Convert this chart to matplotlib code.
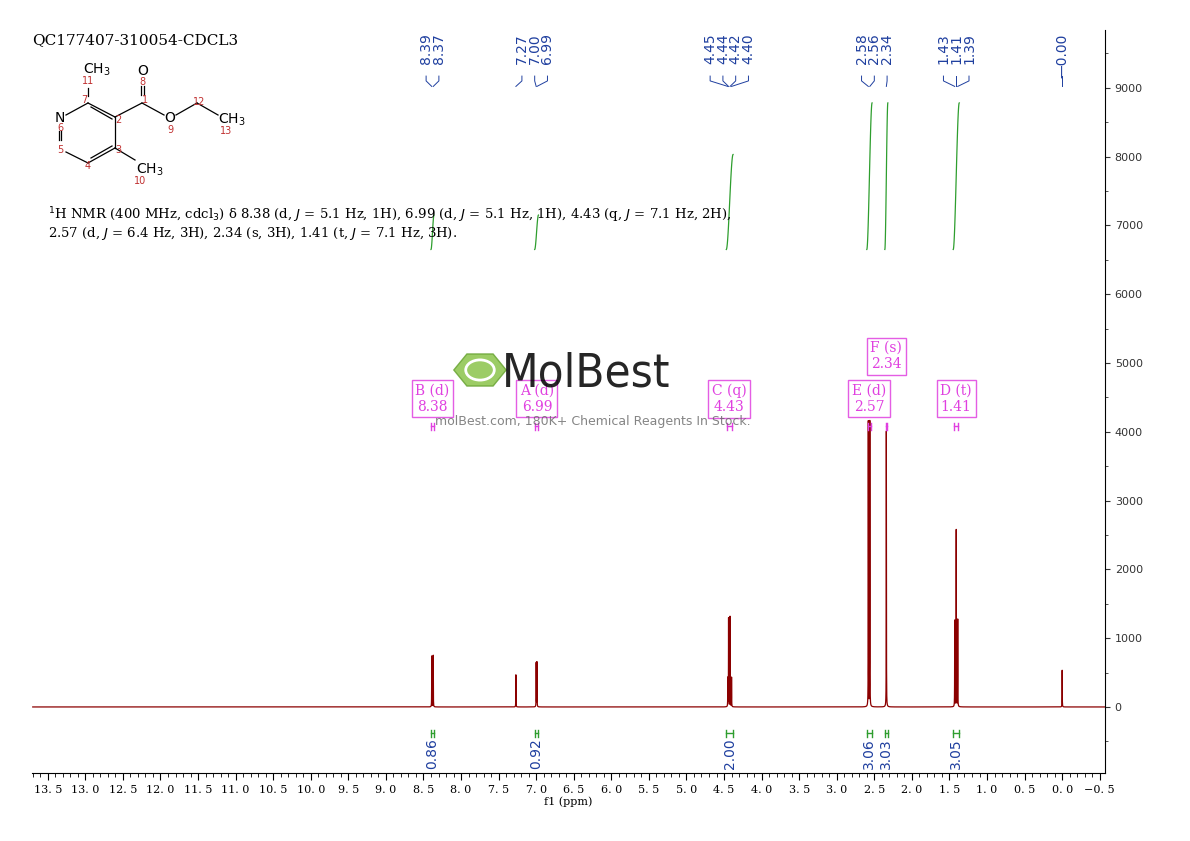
import numpy as np
import matplotlib
matplotlib.use("Agg")
import matplotlib.pyplot as plt
from matplotlib.lines import Line2D
from matplotlib.patches import Circle, RegularPolygon

# peak list (ppm, intensity)
peak_ppm = [8.39, 8.37, 7.27, 7.00, 6.99, 4.45, 4.44, 4.42, 4.40,
            2.58, 2.56, 2.34, 1.43, 1.41, 1.39, 0.00]
peak_int = [740, 750, 480, 640, 650, 420, 1300, 1320, 430,
            4150, 4150, 4150, 1300, 2650, 1300, 540]

# peak label groups shown at the top
label_groups = [["8.39", "8.37"], ["7.27", "7.00", "6.99"],
                ["4.45", "4.44", "4.42", "4.40"], ["2.58", "2.56", "2.34"],
                ["1.43", "1.41", "1.39"], ["-0.00"]]
label_centers = [8.38, 7.02, 4.43, 2.50, 1.41, 0.0]

# multiplets
mult_names = ["B (d)", "A (d)", "C (q)", "E (d)", "F (s)", "D (t)"]
mult_ppm = [8.38, 6.99, 4.43, 2.57, 2.34, 1.41]
mult_from = [8.40, 7.01, 4.46, 2.59, 2.35, 1.44]
mult_to = [8.36, 6.97, 4.39, 2.55, 2.33, 1.38]
mult_lift = [0, 0, 0, 0, 1, 0]

# integrals
int_vals = ["0.86", "0.92", "2.00", "3.06", "3.03", "3.05"]
int_from = [8.40, 7.02, 4.47, 2.60, 2.36, 1.45]
int_to = [8.36, 6.97, 4.38, 2.53, 2.32, 1.37]
int_top = [7150, 7150, 8030, 8780, 8780, 8780]

RED = "#8B0000"
MAG = "#E040E0"
GRN = "#2E9E2E"
BLU = "#1F3F9F"

fig = plt.figure(figsize=(11.9, 8.41), dpi=100)
W, H = 1190, 841
ax = fig.add_axes([32 / W, 1 - 773 / H, (1105 - 32) / W, (773 - 30) / H])
ax.set_xlim(13.71, -0.57)
ax.set_ylim(-960, 9840)

x = np.linspace(13.7, -0.57, 30000)
y = np.zeros_like(x)
gam = 0.0012
for p, h in zip(peak_ppm, peak_int):
    y += h * gam ** 2 / ((x - p) ** 2 + gam ** 2)
ax.plot(x, y, color=RED, lw=0.9)

# integrals
for a, b, top in zip(int_from, int_to, int_top):
    xs = np.linspace(a, b, 60)
    t = (a - xs) / (a - b)
    s = 3 * t ** 2 - 2 * t ** 3
    ax.plot(xs, 6650 + (top - 6650) * s, color=GRN, lw=0.9)
for a, b, v in zip(int_from, int_to, int_vals):
    m = (a + b) / 2
    ax.plot([a, b], [-380, -380], color=GRN, lw=1)
    ax.plot([a, a], [-430, -330], color=GRN, lw=1)
    ax.plot([b, b], [-430, -330], color=GRN, lw=1)
    ax.text(m, -450, v, rotation=90, ha="center", va="top", color=BLU, fontsize=10)

# multiplet boxes
for name, p, a, b, lift in zip(mult_names, mult_ppm, mult_from, mult_to, mult_lift):
    yb = 4080
    ax.plot([a, b], [yb, yb], color=MAG, lw=1)
    ax.plot([a, a], [yb - 50, yb + 50], color=MAG, lw=1)
    ax.plot([b, b], [yb - 50, yb + 50], color=MAG, lw=1)
    ty = 4480 + lift * 620
    ax.text(p, ty, f"{name}\n{p:.2f}", ha="center", va="center", color=MAG,
            fontsize=10, family="serif", linespacing=1.2,
            bbox=dict(facecolor="white", edgecolor=MAG, lw=1, pad=2.5, alpha=0.85))

# peak labels with leader lines
for grp, c in zip(label_groups, label_centers):
    n = len(grp)
    for i, lab in enumerate(grp):
        lx = c + 0.17 * ((n - 1) / 2 - i)
        pv = abs(float(lab))
        ax.text(lx, 9790, lab.replace("-", "\u2014"), rotation=90,
                ha="center", va="top", fontsize=10, color=BLU)
        ax.plot([lx, lx, pv], [9170, 9100, 9020], color=BLU, lw=0.7)

# axes styling
for s in ["left", "top"]:
    ax.spines[s].set_visible(False)
ax.spines["right"].set_bounds(-960, 9840)
ax.yaxis.tick_right()
ax.set_yticks(np.arange(0, 9001, 1000))
ax.set_yticks(np.arange(-500, 9801, 500), minor=True)
ax.tick_params(axis="y", which="both", direction="out", labelsize=8, colors="#333333")
xt = np.arange(13.5, -0.51, -0.5)
ax.set_xticks(xt)
ax.set_xticklabels([f"{v:.1f}".replace(".", ". ") if v >= 0 else f"\u2212{abs(v):.1f}".replace(".", ". ")
                    for v in xt], family="serif", fontsize=8)
ax.set_xticks(np.arange(13.7, -0.57, -0.1), minor=True)
ax.tick_params(axis="x", which="major", length=5)
ax.tick_params(axis="x", which="minor", length=3)
ax.set_xlabel("f1 (ppm)", family="serif", fontsize=8, labelpad=1)

# title and description
fig.text(32 / W, 1 - 40 / H, "QC177407-310054-CDCL3", family="serif", fontsize=11, va="center")
fig.text(48 / W, 1 - 215 / H,
         r"$^{1}$H NMR (400 MHz, cdcl$_3$) δ 8.38 (d, $J$ = 5.1 Hz, 1H), 6.99 (d, $J$ = 5.1 Hz, 1H), 4.43 (q, $J$ = 7.1 Hz, 2H),",
         family="serif", fontsize=9.5, va="center")
fig.text(48 / W, 1 - 234 / H,
         r"2.57 (d, $J$ = 6.4 Hz, 3H), 2.34 (s, 3H), 1.41 (t, $J$ = 7.1 Hz, 3H).",
         family="serif", fontsize=9.5, va="center")

# structure
def P(px, py):
    return px / W, 1 - py / H

bonds = [((88, 88), (88, 96)), ((88, 103), (66, 115)), ((88, 103), (115, 117)),
         ((115, 117), (115, 148)), ((115, 148), (88, 163)), ((88, 163), (66, 152)),
         ((115, 148), (135, 160)), ((115, 117), (142, 103)), ((142, 103), (164, 115)),
         ((176, 115), (197, 103)), ((197, 103), (218, 115))]
for a, b in bonds:
    (x1, y1), (x2, y2) = P(*a), P(*b)
    fig.add_artist(Line2D([x1, x2], [y1, y2], color="black", lw=0.9))
for a, b in [((91, 107), (112, 119)), ((112, 146), (91, 158))]:
    (x1, y1), (x2, y2) = P(*a), P(*b)
    fig.add_artist(Line2D([x1, x2], [y1, y2], color="black", lw=0.9))
for dx in (-1.5, 1.5):
    for (a, b) in [((142 + dx, 86), (142 + dx, 95)), ((60 + dx, 131), (60 + dx, 140))]:
        (x1, y1), (x2, y2) = P(*a), P(*b)
        fig.add_artist(Line2D([x1, x2], [y1, y2], color="black", lw=0.9))
atoms = [("CH$_3$", 97, 70), ("O", 143, 71), ("N", 60, 118), ("O", 170, 118),
         ("CH$_3$", 232, 120), ("CH$_3$", 150, 170)]
for t, px, py in atoms:
    fig.text(*P(px, py), t, ha="center", va="center", fontsize=10)
nums = [("11", 88, 81), ("8", 142, 82), ("7", 84, 100), ("1", 145, 100), ("2", 118, 120),
        ("12", 199, 102), ("6", 60, 128), ("9", 170, 130), ("13", 226, 131), ("5", 60, 150),
        ("3", 118, 150), ("4", 88, 166), ("10", 140, 181)]
for t, px, py in nums:
    fig.text(*P(px, py), t, ha="center", va="center", fontsize=7, color="#C03030")

# watermark
fig.add_artist(RegularPolygon(P(480, 370), 6, radius=0.022, orientation=np.pi / 6,
                              transform=fig.transFigure, facecolor="#8BC34A", edgecolor="#6AA535", alpha=0.85))
fig.add_artist(Circle(P(480, 370), 0.012, transform=fig.transFigure, facecolor="none",
                      edgecolor="white", lw=2))
fig.text(*P(586, 374), "MolBest", ha="center", va="center", fontsize=34, color="black",
         family="DejaVu Sans", fontstretch="condensed", alpha=0.85)
fig.text(*P(593, 421), "molBest.com, 180K+ Chemical Reagents In Stock.", ha="center", va="center",
         fontsize=9, color="#666666", alpha=0.8)

fig.savefig("out.png", dpi=100)
